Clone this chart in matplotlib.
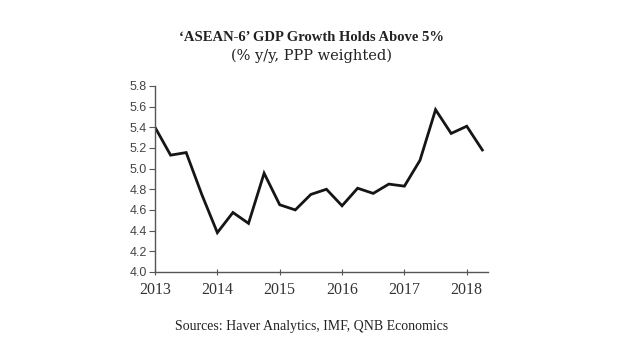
import matplotlib
matplotlib.use('Agg')
import matplotlib.pyplot as plt
import numpy as np

# quarterly data, 2013Q1 .. 2018Q2
quarters = np.arange(22) * 0.25 + 2013
growth = [5.40, 5.13, 5.155, 4.75, 4.38, 4.575, 4.47, 4.955, 4.65, 4.60, 4.75,
          4.80, 4.64, 4.81, 4.76, 4.85, 4.83, 5.08, 5.57, 5.34, 5.41, 5.18]
year_ticks = [2013, 2014, 2015, 2016, 2017, 2018]
y_ticks = [4.0, 4.2, 4.4, 4.6, 4.8, 5.0, 5.2, 5.4, 5.6, 5.8]

fig = plt.figure(figsize=(6.2, 3.55), dpi=100)
ax = fig.add_axes([0.25, 0.234, 0.537, 0.524])

ax.plot(quarters, growth, color='#151515', linewidth=2.0, solid_joinstyle='miter')

ax.set_xlim(2013, 2018.34)
ax.set_ylim(4.0, 5.8)
ax.set_xticks(year_ticks)
ax.set_xticklabels([str(y) for y in year_ticks], family='Liberation Serif', fontsize=11.5)
ax.set_yticks(y_ticks)
ax.set_yticklabels(['%.1f' % v for v in y_ticks], family='Liberation Sans', fontsize=9)

for s in ['top', 'right']:
    ax.spines[s].set_visible(False)
for s in ['left', 'bottom']:
    ax.spines[s].set_color('#555555')
    ax.spines[s].set_linewidth(1.0)
ax.tick_params(axis='y', length=4, color='#555555', pad=2, labelcolor='#444444')
ax.tick_params(axis='x', length=4, direction='inout', color='#555555', pad=5, labelcolor='#333333')

fig.text(0.502, 0.895, '\u2018ASEAN-6\u2019 GDP Growth Holds Above 5%', ha='center', va='center',
         family='Liberation Serif', fontweight='bold', fontsize=10.5, color='#222222')
fig.text(0.502, 0.843, '(% y/y, PPP weighted)', ha='center', va='center',
         family='DejaVu Serif', fontsize=10.5, color='#222222')
fig.text(0.502, 0.08, 'Sources: Haver Analytics, IMF, QNB Economics', ha='center', va='center',
         family='Liberation Serif', fontsize=10, color='#222222')

fig.savefig('out.png', dpi=100)
